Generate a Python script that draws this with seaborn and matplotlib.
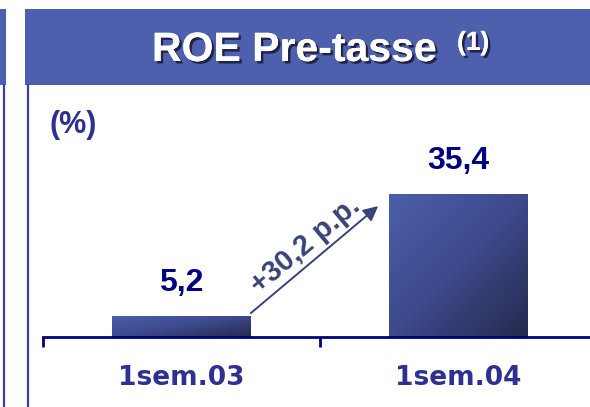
import numpy as np
import pandas as pd
import matplotlib
matplotlib.use("Agg")
import matplotlib.pyplot as plt
import matplotlib.patheffects as pe
from matplotlib.patches import Rectangle
from matplotlib.lines import Line2D
from matplotlib.colors import LinearSegmentedColormap
import seaborn as sns

# Data
categories = ["1sem.03", "1sem.04"]
values = [5.2, 35.4]
value_labels = ["5,2", "35,4"]
delta_label = "+30,2 p.p."
title = "ROE Pre-tasse"
title_note = "(1)"
unit_label = "(%)"

sns.set_theme(style="white")
plt.rcParams["font.family"] = ["Liberation Sans", "DejaVu Sans"]

W, H = 590, 407
fig = plt.figure(figsize=(W / 100, H / 100), dpi=100)
fig.patch.set_facecolor("white")

# Axes placed in pixel terms (axes runs slightly past the right edge)
ax_left, ax_right, ax_bottom, ax_top = 43, 597, H - 337, H - 135
ax = fig.add_axes([ax_left / W, ax_bottom / H, (ax_right - ax_left) / W, (ax_top - ax_bottom) / H])
ax.set_facecolor("none")

BANNER = "#4e5fae"
NAVY = "#000080"
TEXT_BLUE = "#2e3192"
ARROW_COL = "#3a4377"
RULE_COL = "#3d3fa0"

# Header banners and the frame rules beneath them
fig.patches.append(Rectangle((25 / W, 1 - 85 / H), 570 / W, 76 / H,
                             transform=fig.transFigure, facecolor=BANNER, edgecolor="none", zorder=0))
fig.patches.append(Rectangle((0, 1 - 85 / H), 6 / W, 76 / H,
                             transform=fig.transFigure, facecolor=BANNER, edgecolor="none", zorder=0))
for xp in (4, 28):
    fig.lines.append(Line2D([xp / W, xp / W], [0, 1 - 85 / H], transform=fig.transFigure,
                            color=RULE_COL, lw=1.6))

# Bars
df = pd.DataFrame({"period": categories, "roe": values})
sns.barplot(data=df, x="period", y="roe", width=0.5, color=BANNER, ax=ax,
            saturation=1, edgecolor="none")

# Diagonal gradient fill for each bar
grad_cmap = LinearSegmentedColormap.from_list("bar_grad", ["#4c5faa", "#3d4a8c", "#252a4c"])
u = np.linspace(0, 1, 200)
gx, gy = np.meshgrid(u, u)
grad = (gx + gy) / 2.0  # top-left light -> bottom-right dark (origin upper)
for patch in ax.patches:
    x0, y0 = patch.get_x(), patch.get_y()
    w, h = patch.get_width(), patch.get_height()
    im = ax.imshow(grad, cmap=grad_cmap, extent=(x0, x0 + w, y0, y0 + h),
                   origin="upper", aspect="auto", zorder=2, interpolation="bilinear")
    im.set_clip_path(patch)
    patch.set_facecolor("none")
ax.set_xlim(-0.5, 1.5)
ax.set_ylim(0, 50)

# Value labels above bars
for i, (v, lab) in enumerate(zip(values, value_labels)):
    ax.annotate(lab, xy=(i, v), xytext=(0, 24), textcoords="offset points",
                ha="center", va="center", fontsize=23, fontweight="bold", color=NAVY)

# Axis styling
for s in ("left", "top", "right"):
    ax.spines[s].set_visible(False)
ax.spines["bottom"].set_color(NAVY)
ax.spines["bottom"].set_linewidth(2)
ax.set_yticks([])
ax.set_xlabel("")
ax.set_ylabel("")
ax.set_xticks([0, 1])
ax.set_xticklabels(categories, fontsize=19, fontweight="bold", color=TEXT_BLUE,
                   family=["DejaVu Sans"])
ax.tick_params(axis="x", which="major", length=0, pad=20)
ax.set_xticks([-0.5, 0.5, 1.5], minor=True)
ax.tick_params(axis="x", which="minor", length=7, width=2, color=NAVY, direction="out", bottom=True)

# Change arrow between the two bars
start = (0.25, values[0] + 0.7)
end = (0.71, values[1] - 3.0)
ax.annotate("", xy=end, xytext=start,
            arrowprops=dict(arrowstyle="-|>", color=ARROW_COL, lw=1.4,
                            mutation_scale=22, shrinkA=0, shrinkB=0), zorder=3)
p0 = ax.transData.transform(start)
p1 = ax.transData.transform(end)
angle = np.degrees(np.arctan2(p1[1] - p0[1], p1[0] - p0[0]))
mid = ((start[0] + end[0]) / 2, (start[1] + end[1]) / 2)
ax.annotate(delta_label, xy=mid, xytext=(-6.5, 10.5), textcoords="offset points",
            ha="center", va="center", rotation=angle, rotation_mode="anchor",
            fontsize=21, fontweight="bold", color=ARROW_COL)

# Unit label
fig.text(73 / W, 1 - 125 / H, unit_label, ha="center", va="center",
         fontsize=22, fontweight="bold", color=TEXT_BLUE)

# Header title with drop shadow and note marker
shadow = [pe.withSimplePatchShadow(offset=(1.8, -1.8), shadow_rgbFace="#1a1d3a", alpha=0.9),
          pe.Normal()]
fig.text(152 / W, 1 - 61 / H, title, ha="left", va="baseline", fontsize=29.5,
         fontweight="bold", color="white", path_effects=shadow)
fig.text(457 / W, 1 - 50 / H, title_note, ha="left", va="baseline", fontsize=19,
         fontweight="bold", color="white", path_effects=shadow)

fig.savefig("out.png", dpi=100)
